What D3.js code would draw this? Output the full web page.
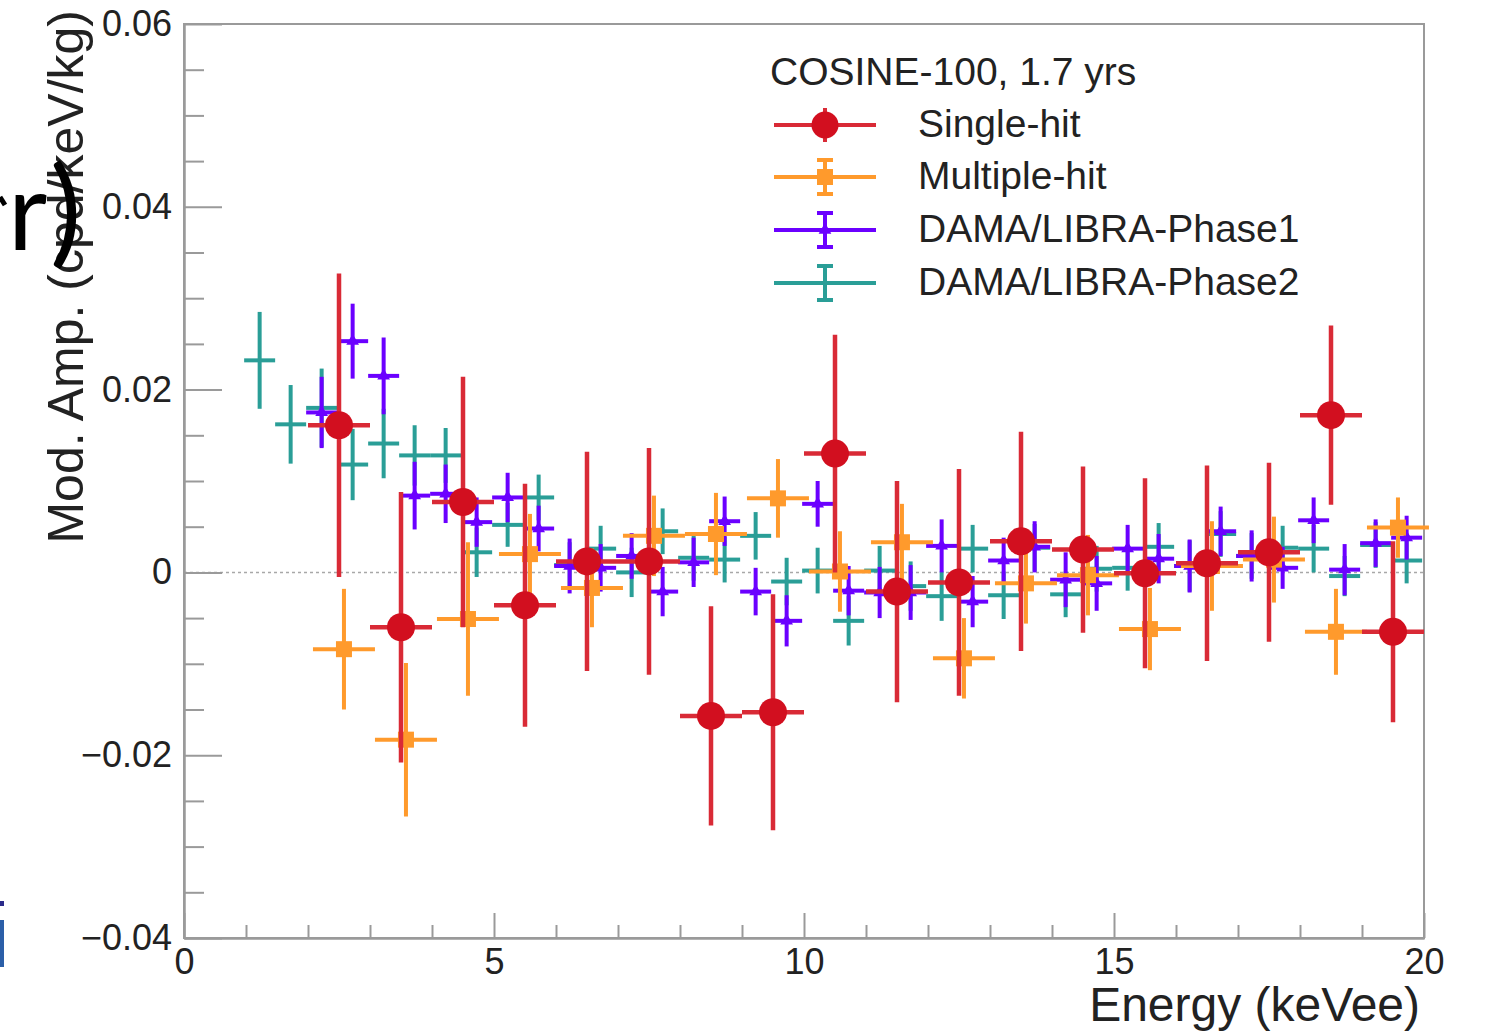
<!DOCTYPE html>
<html>
<head>
<meta charset="utf-8">
<script src="https://cdn.jsdelivr.net/npm/d3@7"></script>
<style>
  html, body { margin: 0; padding: 0; background: #ffffff; }
  svg { display: block; }
  text { font-family: "Liberation Sans", Arial, Helvetica, sans-serif; }
</style>
</head>
<body>
<svg id="chart" width="1485" height="1032"></svg>
<script>
// ---------------- DATA ----------------
// COSINE-100 energy bins (keVee, bin centers)
const cosineBins = [2.5, 3.5, 4.5, 5.5, 6.5, 7.5, 8.5, 9.5, 10.5, 11.5, 12.5, 13.5, 14.5, 15.5, 16.5, 17.5, 18.5, 19.5];
const singleHit    = [0.0161, -0.0060, 0.0077, -0.0036, 0.0012, 0.0012, -0.0157, -0.0153, 0.0130, -0.0021, -0.0011, 0.0034, 0.0025, -0.0001, 0.0010, 0.0022, 0.0172, -0.0065];
const singleHitErr = [0.0166, 0.0148, 0.0137, 0.0133, 0.0120, 0.0124, 0.0120, 0.0129, 0.0130, 0.0121, 0.0124, 0.0120, 0.0091, 0.0104, 0.0107, 0.0098, 0.0098, 0.0099];
const multipleHit    = [-0.0084, -0.0183, -0.0051, 0.0020, -0.0017, 0.0040, 0.0042, 0.0081, 0.0001, 0.0033, -0.0094, -0.0012, -0.0003, -0.0062, 0.0007, 0.0014, -0.0065, 0.0049];
const multipleHitErr = [0.0066, 0.0084, 0.0084, 0.0044, 0.0043, 0.0044, 0.0045, 0.0043, 0.0044, 0.0042, 0.0044, 0.0044, 0.0044, 0.0045, 0.0049, 0.0047, 0.0047, 0.0033];

// DAMA/LIBRA-Phase1 bins (0.5 keV)
const phase1Bins = [2.25, 2.75, 3.25, 3.75, 4.25, 4.75, 5.25, 5.75, 6.25, 6.75, 7.25, 7.75, 8.25, 8.75, 9.25, 9.75, 10.25, 10.75, 11.25, 11.75, 12.25, 12.75, 13.25, 13.75, 14.25, 14.75, 15.25, 15.75, 16.25, 16.75, 17.25, 17.75, 18.25, 18.75, 19.25, 19.75];
const phase1    = [0.0175, 0.0253, 0.0215, 0.0084, 0.0086, 0.0055, 0.0082, 0.0048, 0.0007, 0.0005, 0.0018, -0.0021, 0.0011, 0.0056, -0.0021, -0.0053, 0.0075, -0.0020, -0.0022, -0.0022, 0.0029, -0.0032, 0.0013, 0.0028, -0.0008, -0.0012, 0.0026, 0.0015, 0.0007, 0.0045, 0.0018, 0.0005, 0.0057, 0.0003, 0.0032, 0.0038];
const phase1Err = [0.0039, 0.0041, 0.0042, 0.0037, 0.0032, 0.0027, 0.0027, 0.0025, 0.0030, 0.0026, 0.0025, 0.0027, 0.0027, 0.0027, 0.0026, 0.0028, 0.0025, 0.0027, 0.0028, 0.0030, 0.0029, 0.0028, 0.0025, 0.0028, 0.0030, 0.0030, 0.0026, 0.0027, 0.0029, 0.0027, 0.0028, 0.0023, 0.0025, 0.0028, 0.0026, 0.0024];

// DAMA/LIBRA-Phase2 bins (0.5 keV)
const phase2Bins = [1.25, 1.75, 2.25, 2.75, 3.25, 3.75, 4.25, 4.75, 5.25, 5.75, 6.25, 6.75, 7.25, 7.75, 8.25, 8.75, 9.25, 9.75, 10.25, 10.75, 11.25, 11.75, 12.25, 12.75, 13.25, 13.75, 14.25, 14.75, 15.25, 15.75, 16.25, 16.75, 17.25, 17.75, 18.25, 18.75, 19.25, 19.75];
const phase2    = [0.0232, 0.0162, 0.0180, 0.0118, 0.0141, 0.0128, 0.0128, 0.0022, 0.0052, 0.0082, 0.0008, 0.0026, 0.0000, 0.0045, 0.0016, 0.0014, 0.0040, -0.0010, 0.0002, -0.0053, 0.0002, -0.0015, -0.0026, 0.0026, -0.0025, 0.0027, -0.0024, 0.0004, 0.0005, 0.0028, 0.0007, 0.0042, 0.0018, 0.0027, 0.0026, -0.0004, 0.0030, 0.0013];
const phase2Err = [0.0053, 0.0043, 0.0043, 0.0039, 0.0038, 0.0033, 0.0030, 0.0027, 0.0024, 0.0025, 0.0025, 0.0025, 0.0027, 0.0025, 0.0025, 0.0025, 0.0026, 0.0026, 0.0025, 0.0027, 0.0027, 0.0027, 0.0027, 0.0026, 0.0026, 0.0026, 0.0025, 0.0025, 0.0025, 0.0026, 0.0028, 0.0025, 0.0025, 0.0024, 0.0026, 0.0022, 0.0025, 0.0025];

// Axis ticks
const yMajorTicks = [-0.04, -0.02, 0, 0.02, 0.04, 0.06];
const yMinorTicks = [-0.035, -0.03, -0.025, -0.015, -0.01, -0.005, 0.005, 0.01, 0.015, 0.025, 0.03, 0.035, 0.045, 0.05, 0.055];
const xMajorTicks = [0, 5, 10, 15, 20];
const xMinorTicks = [1, 2, 3, 4, 6, 7, 8, 9, 11, 12, 13, 14, 16, 17, 18, 19];

const legendTitle = "COSINE-100, 1.7 yrs";
const seriesNames = ["Single-hit", "Multiple-hit", "DAMA/LIBRA-Phase1", "DAMA/LIBRA-Phase2"];
const xTitle = "Energy (keVee)";
const yTitle = "Mod. Amp. (cpd/keV/kg)";
const slideFragment = ["r", ")"];

// ---------------- STYLE ----------------
const C_RED = "#d20f1f", C_ORANGE = "#ff9a2c", C_PURPLE = "#6b00ff", C_TEAL = "#2a9e97";
const AXIS = "#9a9a9a", TXT = "#222";

const svg = d3.select("#chart");
svg.append("rect").attr("width", 1485).attr("height", 1032).attr("fill", "#fff");

const x = d3.scaleLinear().domain([0, 20]).range([184, 1424]);
const y = d3.scaleLinear().domain([-0.04, 0.06]).range([938, 24]);

// frame
svg.append("rect").attr("x", x(0)).attr("y", y(0.06))
  .attr("width", x(20) - x(0)).attr("height", y(-0.04) - y(0.06))
  .attr("fill", "none").attr("stroke", AXIS).attr("stroke-width", 2);

// zero line
svg.append("line").attr("x1", x(0)).attr("x2", x(20)).attr("y1", y(0)).attr("y2", y(0))
  .attr("stroke", "#a8a8a8").attr("stroke-width", 1.5).attr("stroke-dasharray", "3,3");

// axes
function styleAxis(g) {
  g.selectAll(".domain").attr("stroke", AXIS).attr("stroke-width", 2);
  g.selectAll(".tick line").attr("stroke", AXIS).attr("stroke-width", 2);
  g.selectAll(".tick text").attr("fill", TXT).style("font-size", "36px")
    .style("font-family", "'Liberation Sans', Arial, sans-serif");
}
const fmtY = v => v === 0 ? "0" : d3.format(".2f")(v);
const gy = svg.append("g").attr("transform", `translate(${x(0)},0)`)
  .call(d3.axisLeft(y).tickValues(yMajorTicks).tickSize(-38).tickSizeOuter(0).tickPadding(12).tickFormat(fmtY));
styleAxis(gy);
const gy2 = svg.append("g").attr("transform", `translate(${x(0)},0)`)
  .call(d3.axisLeft(y).tickValues(yMinorTicks).tickSize(-20).tickSizeOuter(0).tickFormat(""));
styleAxis(gy2);
const gx = svg.append("g").attr("transform", `translate(0,${y(-0.04)})`)
  .call(d3.axisBottom(x).tickValues(xMajorTicks).tickSize(-25).tickSizeOuter(0).tickPadding(10).tickFormat(d3.format("d")));
styleAxis(gx);
const gx2 = svg.append("g").attr("transform", `translate(0,${y(-0.04)})`)
  .call(d3.axisBottom(x).tickValues(xMinorTicks).tickSize(-13).tickSizeOuter(0).tickFormat(""));
styleAxis(gx2);

// axis titles
svg.append("text").attr("x", 1420).attr("y", 1021).attr("text-anchor", "end")
  .attr("fill", TXT).style("font-size", "48px").text(xTitle);
svg.append("text").attr("transform", "translate(83,10) rotate(-90)").attr("text-anchor", "end")
  .attr("fill", TXT).style("font-size", "50px").text(yTitle);

// slide artefacts at left edge (fragment of a larger slide caption, drawn on top)
svg.append("text").attr("x", 8).attr("y", 250)
  .style("font-family", "Lato, 'Open Sans', sans-serif").style("font-weight", 400)
  .style("font-size", "108px").attr("fill", "#000").text(slideFragment[0]);
svg.append("text").attr("x", 50).attr("y", 252)
  .style("font-family", "Lato, 'Open Sans', sans-serif").style("font-weight", 400)
  .style("font-size", "118px").attr("fill", "#000").text(slideFragment[1]);
svg.append("path").attr("d", "M0,197 L5,205").attr("stroke", "#000").attr("stroke-width", 5).attr("fill", "none");
svg.append("rect").attr("x", 0).attr("y", 901).attr("width", 4).attr("height", 5).attr("fill", "#2a2a8a");
svg.append("rect").attr("x", 0).attr("y", 920).attr("width", 4).attr("height", 47).attr("fill", "#2b5fa8");

// ---------------- SERIES ----------------
function drawSeries(bins, vals, errs, opts) {
  const data = bins.map((b, i) => ({ e: b + opts.shift, v: vals[i], err: errs[i] }));
  const g = svg.append("g");
  g.selectAll("line.h").data(data).join("line")
    .attr("x1", d => x(d.e - opts.halfWidth)).attr("x2", d => x(d.e + opts.halfWidth))
    .attr("y1", d => y(d.v)).attr("y2", d => y(d.v))
    .attr("stroke", opts.color).attr("stroke-width", opts.width);
  g.selectAll("line.v").data(data).join("line")
    .attr("x1", d => x(d.e)).attr("x2", d => x(d.e))
    .attr("y1", d => y(d.v + d.err)).attr("y2", d => y(d.v - d.err))
    .attr("stroke", opts.color).attr("stroke-width", opts.width);
  if (opts.marker === "circle") {
    g.selectAll("circle").data(data).join("circle")
      .attr("cx", d => x(d.e)).attr("cy", d => y(d.v)).attr("r", 14).attr("fill", opts.mcolor);
  } else if (opts.marker === "square") {
    g.selectAll("rect").data(data).join("rect")
      .attr("x", d => x(d.e) - 8).attr("y", d => y(d.v) - 8).attr("width", 16).attr("height", 16)
      .attr("fill", opts.color);
  } else if (opts.marker === "triangle") {
    g.selectAll("path").data(data).join("path")
      .attr("d", d3.symbol().type(d3.symbolTriangle).size(70))
      .attr("transform", d => `translate(${x(d.e)},${y(d.v)})`).attr("fill", opts.color);
  }
}
drawSeries(phase2Bins, phase2, phase2Err, { shift: -0.03, halfWidth: 0.25, color: C_TEAL, width: 4, marker: null });
drawSeries(phase1Bins, phase1, phase1Err, { shift: -0.03, halfWidth: 0.25, color: C_PURPLE, width: 4, marker: "triangle" });
drawSeries(cosineBins, multipleHit, multipleHitErr, { shift: 0.08, halfWidth: 0.5, color: C_ORANGE, width: 4, marker: "square" });
drawSeries(cosineBins, singleHit, singleHitErr, { shift: 0, halfWidth: 0.5, color: "#d92a36", mcolor: C_RED, width: 4.5, marker: "circle" });

// ---------------- LEGEND ----------------
const leg = svg.append("g");
leg.append("text").attr("x", 770).attr("y", 85).attr("fill", TXT).style("font-size", "39px").text(legendTitle);
const rowsY = [125, 177, 230, 283];
const legColors = ["#d92a36", C_ORANGE, C_PURPLE, C_TEAL];
seriesNames.forEach((name, i) => {
  const cy = rowsY[i], cx = 825, col = legColors[i];
  leg.append("line").attr("x1", 774).attr("x2", 876).attr("y1", cy).attr("y2", cy)
    .attr("stroke", col).attr("stroke-width", 4);
  leg.append("line").attr("x1", cx).attr("x2", cx).attr("y1", cy - 17).attr("y2", cy + 17)
    .attr("stroke", col).attr("stroke-width", 4);
  if (i > 0) {
    [cy - 17, cy + 17].forEach(yy => leg.append("line").attr("x1", cx - 8).attr("x2", cx + 8)
      .attr("y1", yy).attr("y2", yy).attr("stroke", col).attr("stroke-width", 4));
  }
  if (i === 0) leg.append("circle").attr("cx", cx).attr("cy", cy).attr("r", 13.5).attr("fill", C_RED);
  if (i === 1) leg.append("rect").attr("x", cx - 8).attr("y", cy - 8).attr("width", 16).attr("height", 16).attr("fill", C_ORANGE);
  if (i === 2) leg.append("path").attr("d", d3.symbol().type(d3.symbolTriangle).size(70)())
    .attr("transform", `translate(${cx},${cy})`).attr("fill", C_PURPLE);
  leg.append("text").attr("x", 918).attr("y", cy + 12).attr("fill", TXT).style("font-size", "39px").text(name);
});
</script>
</body>
</html>
